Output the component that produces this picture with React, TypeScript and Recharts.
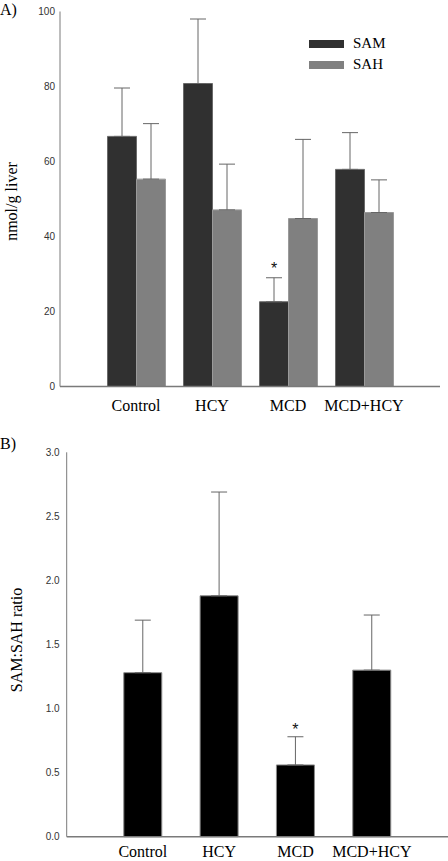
import React from 'react';
import { BarChart, Bar, XAxis, YAxis, ErrorBar, Legend, LabelList } from 'recharts';

const categories = ['Control', 'HCY', 'MCD', 'MCD+HCY'];
const seriesNames = ['SAM', 'SAH'];
const samValues = [66.7, 80.8, 22.6, 57.9];
const samErrors = [12.9, 17.2, 6.4, 9.8];
const sahValues = [55.3, 47.1, 44.8, 46.4];
const sahErrors = [14.8, 12.2, 21.1, 8.7];
const samSignificant = [false, false, true, false];
const amountTicks = [0, 20, 40, 60, 80, 100];

const ratioValues = [1.28, 1.88, 0.56, 1.3];
const ratioErrors = [0.41, 0.81, 0.22, 0.43];
const ratioSignificant = [false, false, true, false];
const ratioTicks = [0, 0.5, 1.0, 1.5, 2.0, 2.5, 3.0];

const amountData = categories.map((name, i) => ({
  name,
  sam: samValues[i],
  samErr: [0, samErrors[i]],
  sah: sahValues[i],
  sahErr: [0, sahErrors[i]],
}));

const ratioData = categories.map((name, i) => ({
  name,
  ratio: ratioValues[i],
  ratioErr: [0, ratioErrors[i]],
}));

const SERIF = '"Liberation Serif", "Times New Roman", serif';
const SANS = '"Liberation Sans", Arial, sans-serif';
const AXIS_COLOR = '#7a7a7a';

const makeStar = (values: number[], errors: number[], sig: boolean[], gap: number) => (props: any) => {
  const vb = props.viewBox || props;
  const index = props.index;
  if (index == null || !sig[index]) return null;
  const x = Number(vb.x);
  const y = Number(vb.y);
  const w = Number(vb.width);
  const h = Math.abs(Number(vb.height));
  const pxPerUnit = h / values[index];
  const capY = y - errors[index] * pxPerUnit;
  return (
    <text x={x + w / 2} y={capY - gap} textAnchor="middle" fontFamily={SANS} fontSize={16} fill="#111">
      *
    </text>
  );
};

const makeYLabel = (text: string, x: number, y: number) => () => (
  <text
    x={x}
    y={y}
    transform={`rotate(-90, ${x}, ${y})`}
    textAnchor="middle"
    fontFamily={SERIF}
    fontSize={16}
    fill="#000"
    style={{ fontFamily: SERIF }}
  >
    {text}
  </text>
);

const SerifTick = (props: any) => (
  <text
    x={props.x}
    y={props.y}
    dy="0.71em"
    textAnchor="middle"
    fontFamily={SERIF}
    fontSize={16}
    fill="#000"
    style={{ fontFamily: SERIF, fontSize: 16 }}
  >
    {props.payload.value}
  </text>
);

const renderLegend = (props: any) => {
  const payload = [...(props.payload || [])].sort(
    (a: any, b: any) => seriesNames.indexOf(a.value) - seriesNames.indexOf(b.value)
  );
  return (
    <div style={{ display: 'flex', flexDirection: 'column' }}>
      {payload.map((entry: any) => (
        <div key={entry.value} style={{ display: 'flex', alignItems: 'center', height: 21 }}>
          <div style={{ width: 35, height: 8, background: entry.color, marginRight: 9 }} />
          <span style={{ fontFamily: SERIF, fontSize: 15, color: '#000', lineHeight: '15px' }}>{entry.value}</span>
        </div>
      ))}
    </div>
  );
};

const titleStyle = (top: number): React.CSSProperties => ({
  position: 'absolute',
  left: 0,
  top,
  fontFamily: SERIF,
  fontSize: 16,
  lineHeight: '16px',
  color: '#000',
});

export default function App() {
  return (
    <div style={{ position: 'absolute', left: 0, top: 0, width: 448, height: 861, background: '#fff', overflow: 'hidden' }}>
      <div style={{ position: 'absolute', left: 0, top: 0 }}>
        <BarChart
          width={448}
          height={420}
          data={amountData}
          margin={{ top: 11.5, right: 8, bottom: 3.5, left: 0 }}
          barCategoryGap="12.5%"
          barGap={0}
        >
          <XAxis
            dataKey="name"
            height={30}
            padding={{ left: 38, right: 38 }}
            tickLine={false}
            tickSize={0}
            tickMargin={13}
            interval={0}
            axisLine={{ stroke: AXIS_COLOR, strokeWidth: 1.5 }}
            tick={<SerifTick />}
          />
          <YAxis
            width={60}
            domain={[0, 100]}
            ticks={amountTicks}
            tickLine={false}
            tickSize={0}
            tickMargin={5}
            axisLine={{ stroke: AXIS_COLOR, strokeWidth: 1 }}
            tick={{ fontFamily: SANS, fontSize: 10, fill: '#333' }}
            label={makeYLabel('nmol/g liver', 17, 201.5)}
          />
          <Legend
            layout="vertical"
            align="center"
            verticalAlign="middle"
            wrapperStyle={{ top: 33, left: 309, width: 110 }}
            content={renderLegend}
          />
          <Bar dataKey="sam" name="SAM" fill="#303030" stroke="#6a6a6a" strokeWidth={1} isAnimationActive={false}>
            <ErrorBar dataKey="samErr" width={8} stroke="#666" strokeWidth={1} direction="y" />
            <LabelList dataKey="sam" content={makeStar(samValues, samErrors, samSignificant, 4)} />
          </Bar>
          <Bar dataKey="sah" name="SAH" fill="#808080" stroke="#9a9a9a" strokeWidth={1} isAnimationActive={false}>
            <ErrorBar dataKey="sahErr" width={8} stroke="#666" strokeWidth={1} direction="y" />
          </Bar>
        </BarChart>
      </div>
      <div style={titleStyle(1.6)}>A)</div>

      <div style={{ position: 'absolute', left: 0, top: 420 }}>
        <BarChart
          width={448}
          height={441}
          data={ratioData}
          margin={{ top: 32.3, right: 0, bottom: 0.3, left: 0 }}
          barCategoryGap="25%"
        >
          <XAxis
            dataKey="name"
            height={24}
            padding={{ left: 38, right: 38 }}
            tickLine={false}
            tickSize={0}
            tickMargin={9}
            interval={0}
            axisLine={{ stroke: AXIS_COLOR, strokeWidth: 1.5 }}
            tick={<SerifTick />}
          />
          <YAxis
            width={66.7}
            domain={[0, 3]}
            ticks={ratioTicks}
            tickFormatter={(v: number) => v.toFixed(1)}
            tickLine={false}
            tickSize={0}
            tickMargin={7}
            axisLine={{ stroke: AXIS_COLOR, strokeWidth: 1 }}
            tick={{ fontFamily: SANS, fontSize: 10, fill: '#333' }}
            label={makeYLabel('SAM:SAH ratio', 21.5, 220)}
          />
          <Bar dataKey="ratio" name="SAM:SAH ratio" fill="#000" stroke="#8a8a8a" strokeWidth={1} isAnimationActive={false}>
            <ErrorBar dataKey="ratioErr" width={8} stroke="#666" strokeWidth={1} direction="y" />
            <LabelList dataKey="ratio" content={makeStar(ratioValues, ratioErrors, ratioSignificant, 2)} />
          </Bar>
        </BarChart>
      </div>
      <div style={titleStyle(435.6)}>B)</div>
    </div>
  );
}
